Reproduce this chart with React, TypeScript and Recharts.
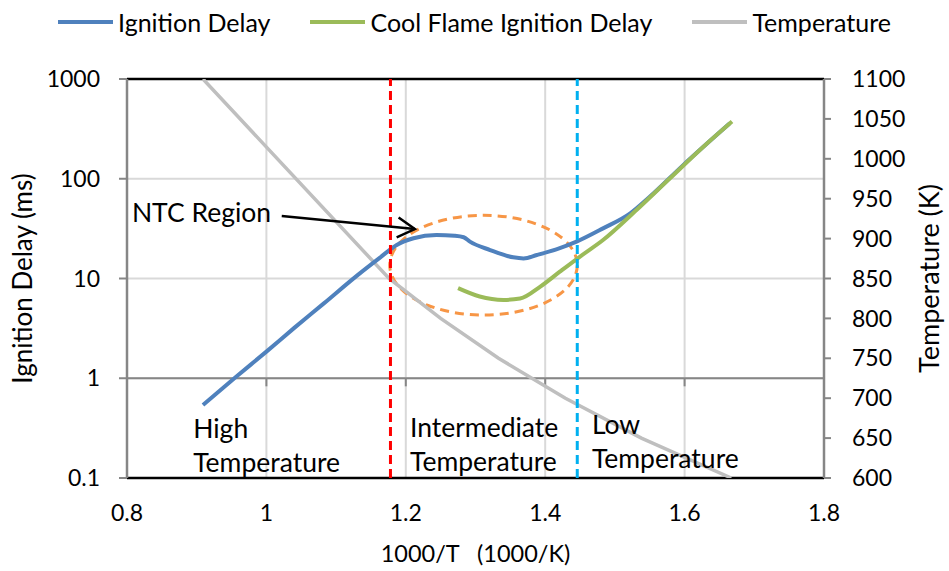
import React from 'react';
import {
  ComposedChart,
  Line,
  XAxis,
  YAxis,
  CartesianGrid,
  ReferenceLine,
  ReferenceArea,
  ReferenceDot,
  Legend,
} from 'recharts';

// x = 1000/T, ignition delay in ms (log), temperature in K
const xTicks = [0.8, 1, 1.2, 1.4, 1.6, 1.8];
const delayTicks = [0.1, 1, 10, 100, 1000];
const tempTicks = [600, 650, 700, 750, 800, 850, 900, 950, 1000, 1050, 1100];

const ignitionX = [0.909, 0.957, 1.0, 1.04, 1.082, 1.13, 1.163, 1.187, 1.211, 1.244, 1.27, 1.283, 1.292, 1.321, 1.354, 1.369, 1.388, 1.416, 1.445, 1.483, 1.522, 1.55, 1.598, 1.665];
const ignitionMs = [0.54, 1.04, 1.85, 3.2, 5.6, 10.7, 16.2, 21.7, 25.3, 27.3, 26.8, 25.9, 23.4, 19.3, 16.3, 15.9, 17.2, 19.6, 23.4, 31.8, 45, 66, 137, 360];

const coolX = [1.275, 1.306, 1.34, 1.364, 1.393, 1.421, 1.45, 1.483, 1.531, 1.579, 1.627, 1.668];
const coolMs = [8.0, 6.6, 6.1, 6.3, 8.3, 11.7, 16.6, 24.3, 48.6, 101, 209, 374];

const tempX = [0.909, 1.176, 1.25, 1.333, 1.429, 1.538, 1.667];
const tempK = [1100, 850, 800, 750, 700, 650, 600];

// region boundaries and annotations
const highBoundary = 1.178;
const lowBoundary = 1.446;
const ntcBox = { x1: 1.177, x2: 1.446, y1: 4.3, y2: 43 };
const ntcText = { x: 0.807, y: 36.8, text: 'NTC Region' };
const ntcArrow = [{ x: 1.022, y: 42.4 }, { x: 1.213, y: 31.3 }];
const regionNames = [['High', 'Temperature'], ['Intermediate', 'Temperature'], ['Low', 'Temperature']];
const regionX = [0.895, 1.206, 1.467];
const regionY = [0.252, 0.255, 0.276];

const ignitionData = ignitionX.map((x, i) => ({ x, ms: ignitionMs[i] }));
const coolData = coolX.map((x, i) => ({ x, ms: coolMs[i] }));
const tempData = tempX.map((x, i) => ({ x, k: tempK[i] }));

const legendItems = [
  { name: 'Ignition Delay', color: '#4f81bd' },
  { name: 'Cool Flame Ignition Delay', color: '#9bbb59' },
  { name: 'Temperature', color: '#bfbfbf' },
];

const FONT = 'Lato, sans-serif';

const LegendContent = () => (
  <div style={{ display: 'flex', justifyContent: 'center', alignItems: 'center', height: 40, fontFamily: FONT }}>
    {legendItems.map((it, i) => (
      <div key={it.name} style={{ display: 'flex', alignItems: 'center', marginRight: i < legendItems.length - 1 ? 40 : 0 }}>
        <div style={{ width: 55, height: 4, background: it.color, marginRight: 5 }} />
        <span style={{ fontSize: 25, color: '#000' }}>{it.name}</span>
      </div>
    ))}
  </div>
);

const arrowShape = (props: any) => {
  const { x1, y1, x2, y2 } = props;
  const a = Math.atan2(y2 - y1, x2 - x1);
  const len = 20;
  const spread = Math.PI / 6;
  const p1 = [x2 - len * Math.cos(a - spread), y2 - len * Math.sin(a - spread)];
  const p2 = [x2 - len * Math.cos(a + spread), y2 - len * Math.sin(a + spread)];
  return (
    <g stroke="#000" strokeWidth={2.5} fill="none">
      <line x1={x1} y1={y1} x2={x2} y2={y2} />
      <polyline points={`${p1[0]},${p1[1]} ${x2},${y2} ${p2[0]},${p2[1]}`} />
    </g>
  );
};

const ellipseShape = (props: any) => {
  const { x, y, width, height } = props;
  return (
    <ellipse
      cx={x + width / 2}
      cy={y + height / 2}
      rx={width / 2}
      ry={height / 2}
      fill="none"
      stroke="#f79646"
      strokeWidth={3}
      strokeDasharray="9 6"
    />
  );
};

const textShape = (lines: string[]) => (props: any) => (
  <text x={props.cx} y={props.cy} fontSize={26.5} fill="#000" fontFamily={FONT}>
    {lines.map((l, i) => (
      <tspan key={i} x={props.cx} dy={i === 0 ? 0 : 34}>
        {l}
      </tspan>
    ))}
  </text>
);

export default function App() {
  return (
    <div style={{ position: 'absolute', left: 0, top: 0, width: 949, height: 571, background: '#fff', fontFamily: FONT }}>
      <ComposedChart width={949} height={571} margin={{ top: 39, right: 0, bottom: 0, left: 0 }}>
        <Legend verticalAlign="top" content={<LegendContent />} wrapperStyle={{ top: 2, left: 0, width: 949 }} />
        <CartesianGrid yAxisId="left" stroke="#d9d9d9" strokeWidth={2} />
        <XAxis
          dataKey="x"
          type="number"
          domain={[0.8, 1.8]}
          ticks={xTicks}
          allowDataOverflow
          height={93}
          axisLine={false}
          tickLine={false}
          tickSize={0}
          tickMargin={27}
          tick={{ fill: '#000', fontSize: 23 }}
          tickFormatter={(v) => String(v)}
          label={{ value: '1000/T\u00a0\u00a0\u00a0(1000/K)', position: 'insideBottom', offset: 9, fill: '#000', fontSize: 23.5 }}
        />
        <YAxis
          yAxisId="left"
          type="number"
          scale="log"
          domain={[0.1, 1000]}
          ticks={delayTicks}
          allowDataOverflow
          width={127}
          axisLine={{ stroke: '#868686', strokeWidth: 2.5 }}
          tickLine={{ stroke: '#868686', strokeWidth: 2 }}
          tickSize={8}
          tickMargin={19}
          tick={{ fill: '#000', fontSize: 23 }}
          tickFormatter={(v) => String(v)}
          label={{ value: 'Ignition Delay (ms)', angle: -90, position: 'center', dx: -41, fill: '#000', fontSize: 26 }}
        />
        <YAxis
          yAxisId="right"
          orientation="right"
          type="number"
          domain={[600, 1100]}
          ticks={tempTicks}
          allowDataOverflow
          width={125}
          axisLine={{ stroke: '#868686', strokeWidth: 2.5 }}
          tickLine={{ stroke: '#868686', strokeWidth: 2 }}
          tickSize={7}
          tickMargin={21}
          tick={{ fill: '#000', fontSize: 23 }}
          label={{ value: 'Temperature (K)', angle: -90, position: 'center', dx: 43, fill: '#000', fontSize: 27 }}
        />

        <ReferenceLine yAxisId="left" y={1} stroke="#868686" strokeWidth={2} />
        {xTicks.slice(1, -1).map((t) => (
          <ReferenceLine
            key={t}
            yAxisId="left"
            segment={[{ x: t, y: 1 }, { x: t, y: 0.83 }]}
            stroke="#868686"
            strokeWidth={2}
          />
        ))}
        <ReferenceLine yAxisId="left" y={1000} stroke="#000" strokeWidth={2.5} />
        <ReferenceLine yAxisId="left" y={0.1} stroke="#000" strokeWidth={2.5} />

        <Line
          yAxisId="right"
          data={tempData}
          dataKey="k"
          type="linear"
          stroke="#bfbfbf"
          strokeWidth={3.5}
          dot={false}
          isAnimationActive={false}
        />
        <Line
          yAxisId="left"
          data={ignitionData}
          dataKey="ms"
          type="monotone"
          stroke="#4f81bd"
          strokeWidth={4}
          dot={false}
          isAnimationActive={false}
        />
        <Line
          yAxisId="left"
          data={coolData}
          dataKey="ms"
          type="monotone"
          stroke="#9bbb59"
          strokeWidth={4}
          dot={false}
          isAnimationActive={false}
        />

        <ReferenceLine yAxisId="left" x={highBoundary} stroke="#ff0000" strokeWidth={3} strokeDasharray="9 5" />
        <ReferenceLine yAxisId="left" x={lowBoundary} stroke="#00b0f0" strokeWidth={3} strokeDasharray="9 5" />
        <ReferenceArea
          yAxisId="left"
          x1={ntcBox.x1}
          x2={ntcBox.x2}
          y1={ntcBox.y1}
          y2={ntcBox.y2}
          shape={ellipseShape}
        />
        <ReferenceLine yAxisId="left" segment={ntcArrow} shape={arrowShape} />
        <ReferenceDot yAxisId="left" x={ntcText.x} y={ntcText.y} r={0} shape={textShape([ntcText.text])} />
        {regionNames.map((lines, i) => (
          <ReferenceDot
            key={i}
            yAxisId="left"
            x={regionX[i]}
            y={regionY[i]}
            r={0}
            shape={textShape(lines)}
          />
        ))}
      </ComposedChart>
    </div>
  );
}
